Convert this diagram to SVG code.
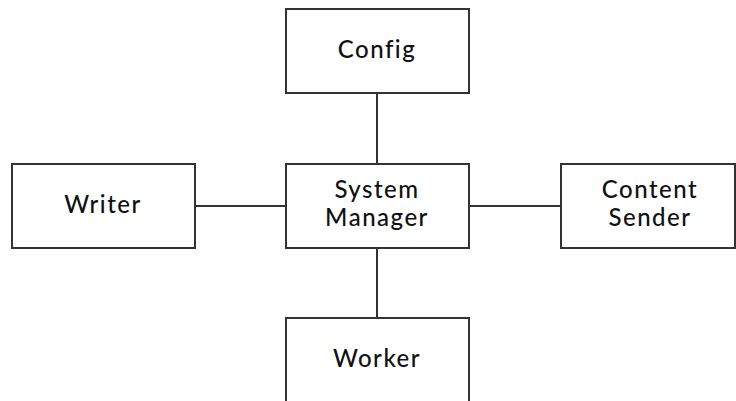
<svg xmlns="http://www.w3.org/2000/svg" width="736" height="401" viewBox="0 0 736 401">
<style>
.box{fill:#fff;stroke:#333;stroke-width:2}
.ln{stroke:#333;stroke-width:2;fill:none}
text{font-family:Lato,"Noto Sans",sans-serif;font-size:24px;font-weight:500;fill:#111;text-anchor:middle;letter-spacing:1.5px}
</style>
<rect width="736" height="401" fill="#fff"/>
<g id="connectors">
<line class="ln" x1="377" y1="93" x2="377" y2="164"/>
<line class="ln" x1="377" y1="248" x2="377" y2="318"/>
<line class="ln" x1="195" y1="206" x2="286" y2="206"/>
<line class="ln" x1="469" y1="206" x2="561" y2="206"/>
</g>
<g id="config"><rect class="box" x="286" y="9" width="183" height="84"/><text x="377" y="58">Config</text></g>
<g id="system-manager"><rect class="box" x="286" y="164" width="183" height="84"/><text x="377" y="198">System</text><text x="377" y="226">Manager</text></g>
<g id="writer"><rect class="box" x="12" y="164" width="183" height="84"/><text x="103" y="213">Writer</text></g>
<g id="content-sender"><rect class="box" x="561" y="164" width="174" height="84"/><text x="650" y="198">Content</text><text x="650" y="226">Sender</text></g>
<g id="worker"><rect class="box" x="286" y="318" width="183" height="90"/><text x="377" y="367">Worker</text></g>
</svg>
